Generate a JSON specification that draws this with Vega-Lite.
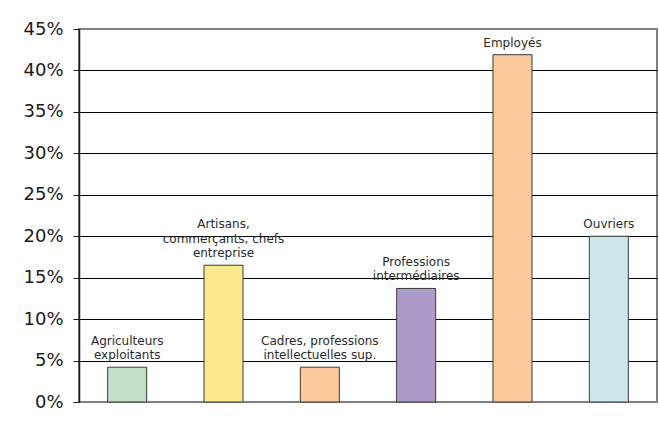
{
  "$schema": "https://vega.github.io/schema/vega-lite/v6.json",
  "autosize": {"type": "none"},
  "width": 578,
  "height": 373,
  "padding": {"left": 79, "top": 29, "right": 2, "bottom": 22},
  "background": "white",
  "config": {
    "view": {"stroke": "#808080", "strokeWidth": 2},
    "font": "DejaVu Sans",
    "text": {"baseline": "bottom", "align": "center", "fontSize": 12, "font": "DejaVu Sans", "color": "#2a2a2a"}
  },
  "data": {
    "values": [
      {"categorie": "Agriculteurs exploitants", "ligne3": "", "ligne2": "Agriculteurs", "ligne1": "exploitants", "part": 0.042},
      {"categorie": "Artisans, commerçants, chefs entreprise", "ligne3": "Artisans,", "ligne2": "commerçants, chefs", "ligne1": "entreprise", "part": 0.165},
      {"categorie": "Cadres, professions intellectuelles sup.", "ligne3": "", "ligne2": "Cadres, professions", "ligne1": "intellectuelles sup.", "part": 0.042},
      {"categorie": "Professions intermédiaires", "ligne3": "", "ligne2": "Professions", "ligne1": "intermédiaires", "part": 0.137},
      {"categorie": "Employés", "ligne3": "", "ligne2": "", "ligne1": "Employés", "part": 0.419},
      {"categorie": "Ouvriers", "ligne3": "", "ligne2": "", "ligne1": "Ouvriers", "part": 0.2}
    ]
  },
  "encoding": {
    "x": {
      "field": "categorie",
      "type": "nominal",
      "sort": null,
      "axis": null,
      "scale": {"paddingInner": 0.595, "paddingOuter": 0.2975}
    },
    "y": {
      "field": "part",
      "type": "quantitative",
      "scale": {"domain": [0, 0.45], "nice": false},
      "axis": {
        "title": null,
        "format": ".0%",
        "values": [0, 0.05, 0.1, 0.15, 0.2, 0.25, 0.3, 0.35, 0.4, 0.45],
        "labelFont": "DejaVu Sans",
        "labelFontSize": 18,
        "labelColor": "#1a1a1a",
        "labelPadding": 10,
        "tickSize": 6,
        "tickColor": "#1a1a1a",
        "domainColor": "#1a1a1a",
        "domainWidth": 1.5,
        "gridColor": "#000000",
        "gridWidth": 1,
        "gridOpacity": {"condition": {"test": "datum.value >= 0.45 || datum.value <= 0", "value": 0}, "value": 1}
      }
    }
  },
  "layer": [
    {
      "mark": {"type": "bar", "stroke": "#3a3a3a", "strokeWidth": 1},
      "encoding": {
        "color": {
          "field": "categorie",
          "type": "nominal",
          "legend": null,
          "scale": {
            "domain": ["Agriculteurs exploitants", "Artisans, commerçants, chefs entreprise", "Cadres, professions intellectuelles sup.", "Professions intermédiaires", "Employés", "Ouvriers"],
            "range": ["#C3E0C8", "#FAE98D", "#FBC99C", "#AC9BCA", "#FBC99C", "#CCE8EA"]
          }
        }
      }
    },
    {
      "mark": {"type": "text", "dy": -5},
      "encoding": {"text": {"field": "ligne1"}}
    },
    {
      "mark": {"type": "text", "dy": -19.5},
      "encoding": {"text": {"field": "ligne2"}}
    },
    {
      "mark": {"type": "text", "dy": -34},
      "encoding": {"text": {"field": "ligne3"}}
    }
  ]
}
